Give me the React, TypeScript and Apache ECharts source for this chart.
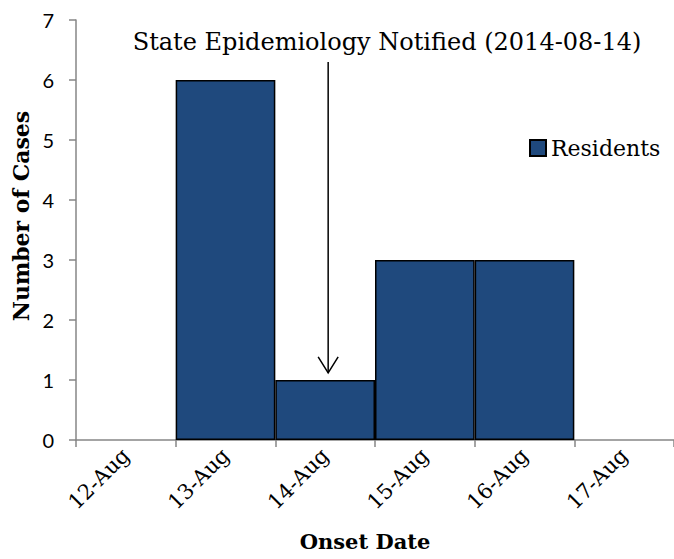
import React, { useEffect, useRef } from "react";
import * as echarts from "echarts";

const categories = ["12-Aug", "13-Aug", "14-Aug", "15-Aug", "16-Aug", "17-Aug"];
const residents = [0, 6, 1, 3, 3, 0];
const yMin = 0;
const yMax = 7;
const yInterval = 1;
const annotationText = "State Epidemiology Notified (2014-08-14)";
const arrowDate = "14-Aug";
const arrowTop = 6.3;
const arrowBottom = 1.12;

const SERIF = "'DejaVu Serif', 'Liberation Serif', serif";
const SANS = "Lato, 'Liberation Sans', sans-serif";

export default function App() {
  const ref = useRef<HTMLDivElement>(null);
  useEffect(() => {
    if (!ref.current) return;
    const chart = echarts.init(ref.current, null, { renderer: "svg" });
    chart.setOption({
      animation: false,
      backgroundColor: "#ffffff",
      grid: { left: 76, top: 20, width: 600, height: 420, containLabel: false },
      legend: {
        show: true,
        left: 524,
        top: 132,
        icon: "rect",
        itemWidth: 16,
        itemHeight: 16,
        itemGap: 6,
        textStyle: { fontFamily: SERIF, fontSize: 22, color: "#000" },
        data: ["Residents"],
      },
      xAxis: {
        type: "category",
        data: categories,
        name: "Onset Date",
        nameLocation: "middle",
        nameGap: 91,
        nameTextStyle: {
          fontFamily: SERIF,
          fontWeight: "bold",
          fontSize: 21,
          color: "#000",
          padding: [0, 20, 0, 0],
        },
        axisLine: { lineStyle: { color: "#868686", width: 1.5 } },
        axisTick: { show: true, length: 7, lineStyle: { color: "#868686", width: 1.5 } },
        axisLabel: {
          rotate: 45,
          margin: 12,
          fontFamily: SERIF,
          fontSize: 21,
          color: "#000",
          interval: 0,
        },
        splitLine: { show: false },
      },
      yAxis: {
        type: "value",
        min: yMin,
        max: yMax,
        interval: yInterval,
        name: "Number of Cases",
        nameLocation: "middle",
        nameGap: 44,
        nameRotate: 90,
        nameTextStyle: {
          fontFamily: SERIF,
          fontWeight: "bold",
          fontSize: 22,
          color: "#000",
          padding: [0, 0, 0, 28],
        },
        axisLine: { show: true, lineStyle: { color: "#868686", width: 1.5 } },
        axisTick: { show: true, length: 7, lineStyle: { color: "#868686", width: 1.5 } },
        axisLabel: { margin: 22, fontFamily: SANS, fontSize: 20, color: "#000" },
        splitLine: { show: false },
      },
      series: [
        {
          name: "Residents",
          type: "bar",
          data: residents.map((v) => (v === 0 ? "-" : v)),
          barCategoryGap: "0%",
          itemStyle: { color: "#1F497D", borderColor: "#000", borderWidth: 1.5 },
        },
      ],
    });
    const idx = categories.indexOf(arrowDate);
    const top = chart.convertToPixel({ gridIndex: 0 }, [idx, arrowTop]) as number[];
    const bot = chart.convertToPixel({ gridIndex: 0 }, [idx, arrowBottom]) as number[];
    const ax = top[0] + 3;
    chart.setOption({
      graphic: [
        {
          type: "text",
          x: 387,
          y: 42,
          style: {
            text: annotationText,
            fontFamily: SERIF,
            fontSize: 24,
            fill: "#000",
            textAlign: "center",
            textVerticalAlign: "middle",
          },
        },
        {
          type: "line",
          shape: { x1: ax, y1: top[1], x2: ax, y2: bot[1] },
          style: { stroke: "#000", lineWidth: 1.5 },
        },
        {
          type: "polyline",
          shape: {
            points: [
              [ax - 10, bot[1] - 16],
              [ax, bot[1]],
              [ax + 10, bot[1] - 16],
            ],
          },
          style: { stroke: "#000", lineWidth: 1.5, fill: null },
        },
      ],
    });
    return () => chart.dispose();
  }, []);
  return (
    <div
      ref={ref}
      style={{ position: "absolute", left: 0, top: 0, width: 674, height: 559 }}
    />
  );
}
